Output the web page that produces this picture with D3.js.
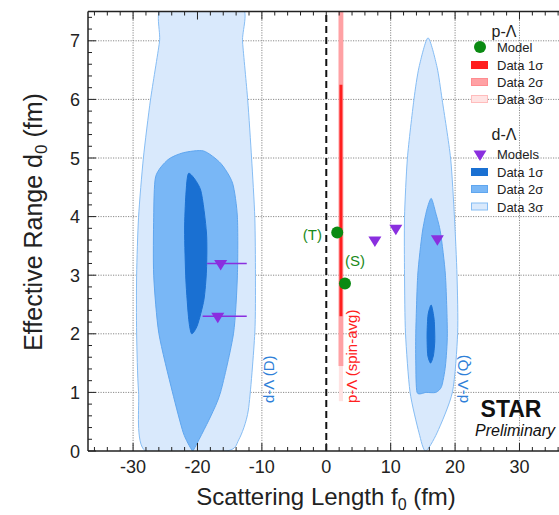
<!DOCTYPE html>
<html>
<head>
<meta charset="utf-8">
<script src="https://cdn.jsdelivr.net/npm/d3@7"></script>
<style>
  body { margin: 0; background: #fff; }
  svg { display: block; font-family: "Liberation Sans", Arial, sans-serif; }
</style>
</head>
<body>
<script>
// axis ticks
var xTicks = [-30, -20, -10, 0, 10, 20, 30];
var yTicks = [0, 1, 2, 3, 4, 5, 6, 7];

// d-Lambda contours, [f0, d0] outlines
var dD3sig = [[-25.3,7.6],[-25.9,6.98],[-27.3,5.99],[-28.4,5.0],[-29.15,3.99],[-29.45,3.0],[-29.45,2.01],[-29.15,1.01],[-28.1,0],
  [-15.6,0],[-13.6,0.19],[-12.1,0.7],[-11.1,2.01],[-11.0,3.0],[-11.1,3.99],[-11.6,5.0],[-12.2,5.99],[-13.0,6.98],[-13.3,7.6]];
var dD2sig = [[-20.6,0.02],[-18.0,0.58],[-16.4,1.01],[-14.4,2.01],[-13.8,3.0],[-13.8,3.99],[-14.55,4.57],[-16.4,4.91],[-19.05,5.12],
  [-22.2,5.09],[-24.6,4.97],[-26.5,4.68],[-26.8,3.99],[-26.8,3.0],[-26.0,2.01],[-23.9,1.01],[-22.2,0.31],[-20.9,0.02]];
var dD1sig = [[-21.35,4.74],[-19.5,4.45],[-18.6,3.72],[-18.6,3.09],[-19.0,2.58],[-20.0,2.15],[-20.9,2.0],[-21.35,2.24],
  [-21.8,2.92],[-22.0,3.77],[-21.8,4.37]];
var dQ3sig = [[15.8,7.05],[17.2,6.55],[18.0,5.99],[19.3,5.0],[19.9,3.99],[20.3,3.0],[20.4,2.01],[19.6,1.01],[17.2,0.31],[15.4,0],
  [14.4,0.31],[13.0,1.01],[12.3,2.01],[12.15,3.0],[12.15,3.99],[12.6,5.0],[13.6,5.99],[14.4,6.55]];
var dQ2sig = [[16.3,4.31],[17.0,4.06],[17.75,3.72],[18.5,3.0],[18.8,2.01],[18.5,1.45],[17.9,1.1],[17.0,1.0],[15.5,1.0],[14.1,1.0],
  [13.9,1.5],[13.9,2.01],[14.2,3.0],[14.9,3.72],[15.6,4.11]];
var dQ1sig = [[16.3,2.49],[16.75,2.24],[16.85,1.89],[16.65,1.64],[16.2,1.5],[15.75,1.64],[15.65,1.98],[15.8,2.32]];

// p-Lambda (spin-avg) bands: [f0 lo, f0 hi, d0 lo, d0 hi]
var pBand3 = [1.95, 2.6, 0.85, 7.6];
var pBand2 = [1.9, 2.65, 1.45, 7.6];
var pBand1 = [2.05, 2.5, 2.3, 6.25];

// models
var pModelLabels = ["(T)", "(S)"];
var pModelF0 = [1.7, 2.9];
var pModelD0 = [3.73, 2.86];
var dModelF0 = [-16.4, -16.85, 7.55, 10.8, 17.25];
var dModelD0 = [3.2, 2.3, 3.6, 3.8, 3.62];
var dModelErrLo = [-18.5, -19.2, null, null, null];
var dModelErrHi = [-12.35, -12.35, null, null, null];

var legendP = ["Model", "Data 1σ", "Data 2σ", "Data 3σ"];
var legendD = ["Models", "Data 1σ", "Data 2σ", "Data 3σ"];

var W = 559, H = 515;
var red1 = "#ff1f1f", red2 = "#ffa1a4", red3 = "#ffe3e3";
var blue1 = "#1a70d2", blue2 = "#79b7f6", blue3 = "#d9e9fc";
var purple = "#8a2fdf", green = "#0a8a12";

var x = d3.scaleLinear().domain([-37, 37]).range([88, 88 + 74 * 6.44]);
var y = d3.scaleLinear().domain([0, 7.5]).range([451, 451 - 7.5 * 58.6]);

var svg = d3.select("body").append("svg").attr("width", W).attr("height", H);

svg.append("clipPath").attr("id", "plot")
  .append("rect").attr("x", x(-37)).attr("y", y(7.5)).attr("width", x(37) - x(-37)).attr("height", y(0) - y(7.5));

// grid
var grid = svg.append("g").attr("stroke", "#8a8a8a").attr("stroke-width", 1).attr("stroke-dasharray", "1.2,1.3");
grid.selectAll(".gx").data(xTicks.filter(function(d) { return d != 0; })).enter().append("line")
  .attr("x1", function(d) { return x(d); }).attr("x2", function(d) { return x(d); })
  .attr("y1", y(0)).attr("y2", y(7.5));
grid.selectAll(".gy").data(yTicks.filter(function(d) { return d > 0; })).enter().append("line")
  .attr("x1", x(-37)).attr("x2", x(37))
  .attr("y1", function(d) { return y(d); }).attr("y2", function(d) { return y(d); });

// contours
var line = d3.line().x(function(d) { return x(d[0]); }).y(function(d) { return y(d[1]); }).curve(d3.curveCardinalClosed.tension(0.3));
var cont = svg.append("g").attr("clip-path", "url(#plot)");
var shapes = [
  [dD3sig, blue3, "#86bdf4"], [dD2sig, blue2, "#5fa6ef"], [dD1sig, blue1, "#1a70d2"],
  [dQ3sig, blue3, "#86bdf4"], [dQ2sig, blue2, "#5fa6ef"], [dQ1sig, blue1, "#1a70d2"]
];
shapes.forEach(function(s) {
  cont.append("path").attr("d", line(s[0])).attr("fill", s[1]).attr("stroke", s[2]).attr("stroke-width", 1);
});

// zero line
svg.append("line").attr("x1", x(0)).attr("x2", x(0)).attr("y1", y(0)).attr("y2", y(7.5))
  .attr("stroke", "#111").attr("stroke-width", 2).attr("stroke-dasharray", "7,4");

// p-Lambda bands
var bands = svg.append("g").attr("clip-path", "url(#plot)");
[[pBand3, red3], [pBand2, red2], [pBand1, red1]].forEach(function(b) {
  var r = b[0];
  bands.append("rect").attr("x", x(r[0])).attr("width", x(r[1]) - x(r[0]))
    .attr("y", y(r[3])).attr("height", y(r[2]) - y(r[3])).attr("fill", b[1]);
});

// axes
var axes = svg.append("g").attr("stroke", "#222").attr("stroke-width", 1.5);
axes.append("line").attr("x1", x(-37)).attr("x2", W).attr("y1", y(0)).attr("y2", y(0));
axes.append("line").attr("x1", x(-37)).attr("x2", W).attr("y1", y(7.5)).attr("y2", y(7.5));
axes.append("line").attr("x1", x(-37)).attr("x2", x(-37)).attr("y1", y(0)).attr("y2", y(7.5));
var xMinor = d3.range(-36, 37, 2);
var yMinor = d3.range(0, 7.5, 0.2);
var tk = svg.append("g").attr("stroke", "#222").attr("stroke-width", 1);
tk.selectAll(".xb").data(xMinor).enter().append("line")
  .attr("x1", function(d) { return x(d); }).attr("x2", function(d) { return x(d); })
  .attr("y1", y(0)).attr("y2", function(d) { return y(0) - (d % 10 == 0 ? 8 : 4); });
tk.selectAll(".xt").data(xMinor).enter().append("line")
  .attr("x1", function(d) { return x(d); }).attr("x2", function(d) { return x(d); })
  .attr("y1", y(7.5)).attr("y2", function(d) { return y(7.5) + (d % 10 == 0 ? 8 : 4); });
tk.selectAll(".yl").data(yMinor).enter().append("line")
  .attr("x1", x(-37)).attr("x2", function(d) { return x(-37) + (Math.abs(d - Math.round(d)) < 0.01 ? 8 : 4); })
  .attr("y1", function(d) { return y(d); }).attr("y2", function(d) { return y(d); });

// tick labels
svg.selectAll(".xl").data(xTicks).enter().append("text")
  .attr("x", function(d) { return x(d); }).attr("y", 473)
  .attr("text-anchor", "middle").attr("font-size", 18).attr("fill", "#222")
  .text(function(d) { return d; });
svg.selectAll(".yt").data(yTicks).enter().append("text")
  .attr("x", 80).attr("y", function(d) { return y(d) + 6.5; })
  .attr("text-anchor", "end").attr("font-size", 18).attr("fill", "#222")
  .text(function(d) { return d; });

// axis titles
var xt = svg.append("text").attr("x", 326).attr("y", 505).attr("text-anchor", "middle")
  .attr("font-size", 24).attr("fill", "#222");
xt.append("tspan").text("Scattering Length f");
xt.append("tspan").attr("font-size", 16).attr("dy", 5).text("0");
xt.append("tspan").attr("dy", -5).text(" (fm)");
var yt = svg.append("text").attr("transform", "translate(42,222) rotate(-90)").attr("text-anchor", "middle")
  .attr("font-size", 25).attr("fill", "#222");
yt.append("tspan").text("Effective Range d");
yt.append("tspan").attr("font-size", 17).attr("dy", 5).text("0");
yt.append("tspan").attr("dy", -5).text(" (fm)");

// in-plot labels
svg.append("text").attr("transform", "translate(357,403) rotate(-90)")
  .attr("font-size", 15).attr("fill", "#ff2020").text("p-Λ (spin-avg)");
svg.append("text").attr("transform", "translate(274,403) rotate(-90)")
  .attr("font-size", 15).attr("fill", "#2f7fd8").text("d-Λ (D)");
svg.append("text").attr("transform", "translate(468,403) rotate(-90)")
  .attr("font-size", 15).attr("fill", "#2f7fd8").text("d-Λ (Q)");

// triangle marker
function tri(s) {
  return "M" + (-6.5 * s) + "," + (-3.5 * s) + "L" + (6.5 * s) + "," + (-3.5 * s) + "L0," + (7 * s) + "Z";
}

// d-Lambda models
dModelF0.forEach(function(f, i) {
  if (dModelErrLo[i] != null) {
    svg.append("line").attr("x1", x(dModelErrLo[i])).attr("x2", x(dModelErrHi[i]))
      .attr("y1", y(dModelD0[i])).attr("y2", y(dModelD0[i]))
      .attr("stroke", purple).attr("stroke-width", 1.5);
  }
  svg.append("path").attr("d", tri(1)).attr("fill", purple)
    .attr("transform", "translate(" + x(f) + "," + y(dModelD0[i]) + ")");
});

// p-Lambda models
pModelF0.forEach(function(f, i) {
  svg.append("circle").attr("cx", x(f)).attr("cy", y(pModelD0[i])).attr("r", 6).attr("fill", green);
});
svg.append("text").attr("x", 322).attr("y", 240).attr("text-anchor", "end")
  .attr("font-size", 15).attr("fill", "#1a8a1a").text(pModelLabels[0]);
svg.append("text").attr("x", 345).attr("y", 266)
  .attr("font-size", 15).attr("fill", "#1a8a1a").text(pModelLabels[1]);

// STAR
svg.append("text").attr("x", 511).attr("y", 417).attr("text-anchor", "middle")
  .attr("font-size", 23).attr("font-weight", "bold").attr("fill", "#111").text("STAR");
svg.append("text").attr("x", 555).attr("y", 436).attr("text-anchor", "end")
  .attr("font-size", 16).attr("font-style", "italic").attr("fill", "#111").text("Preliminary");

// legend
var lg = svg.append("g").attr("font-size", 13).attr("fill", "#222");
lg.append("text").attr("x", 504).attr("y", 37).attr("text-anchor", "middle").attr("font-size", 16).text("p-Λ");
lg.append("text").attr("x", 504).attr("y", 140).attr("text-anchor", "middle").attr("font-size", 16).text("d-Λ");
var rowP = [47, 65, 82, 99];
var rowD = [154, 172, 189, 206.5];
var swP = [null, [red1, red1], [red2, "#ff8c90"], [red3, "#ffbcbc"]];
var swD = [null, [blue1, blue1], [blue2, "#5fa6ef"], [blue3, "#86bdf4"]];
legendP.forEach(function(t, i) {
  lg.append("text").attr("x", 497).attr("y", rowP[i] + 5).text(t);
  if (i == 0) {
    lg.append("circle").attr("cx", 480).attr("cy", rowP[i]).attr("r", 6).attr("fill", green);
  } else {
    lg.append("rect").attr("x", 471.5).attr("y", rowP[i] - 3.5).attr("width", 16).attr("height", 7)
      .attr("fill", swP[i][0]).attr("stroke", swP[i][1]).attr("stroke-width", 1);
  }
});
legendD.forEach(function(t, i) {
  lg.append("text").attr("x", 497).attr("y", rowD[i] + 5).text(t);
  if (i == 0) {
    lg.append("path").attr("d", tri(1)).attr("fill", purple).attr("transform", "translate(480," + rowD[i] + ")");
  } else {
    lg.append("rect").attr("x", 471.5).attr("y", rowD[i] - 3.5).attr("width", 16).attr("height", 7)
      .attr("fill", swD[i][0]).attr("stroke", swD[i][1]).attr("stroke-width", 1);
  }
});
</script>
</body>
</html>
